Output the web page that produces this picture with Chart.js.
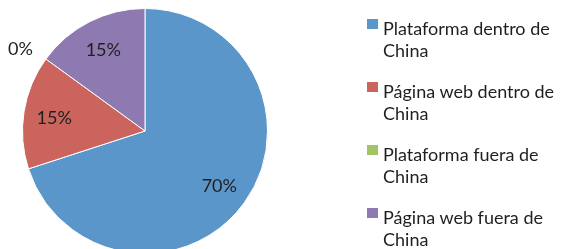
<!DOCTYPE html>
<html>
<head>
<meta charset="utf-8">
<script src="https://cdn.jsdelivr.net/npm/chart.js@4/dist/chart.umd.min.js"></script>
<style>
   html, body { margin: 0; padding: 0; background: #fff; overflow: hidden; }
   body { width: 561px; height: 249px; position: relative; font-family: Lato, sans-serif; }
   #wrap { position: absolute; left: 0; top: 0; width: 561px; height: 254px; }
   #legend { position: absolute; left: 367px; top: 17px; width: 194px; }
   .item { position: relative; height: 63px; }
   .box { position: absolute; left: 0; top: 2px; width: 11px; height: 10px; }
   .txt { position: absolute; left: 16px; top: 0; font-size: 18px; line-height: 22px; color: #1f1f1f; white-space: nowrap; }
</style>
</head>
<body>
<div id="wrap"><canvas id="chart"></canvas></div>
<div id="legend"></div>
<script>
const categories = ['Plataforma dentro de China', 'Página web dentro de China', 'Plataforma fuera de China', 'Página web fuera de China'];
const legendLines = [['Plataforma dentro de', 'China'], ['Página web dentro de', 'China'], ['Plataforma fuera de', 'China'], ['Página web fuera de', 'China']];
const shares = [70, 15, 0, 15];
const colors = ['#5b96cb', '#cc645e', '#a2c465', '#8e79b1'];

// percentage labels drawn inside each slice, or just outside when the slice is empty
const sliceLabels = {
   id: 'sliceLabels',
   afterDatasetsDraw(chart) {
      const ctx = chart.ctx;
      const meta = chart.getDatasetMeta(0);
      ctx.save();
      ctx.font = '18px Lato, sans-serif';
      ctx.fillStyle = '#1f1f1f';
      ctx.textBaseline = 'middle';
      meta.data.forEach((arc, i) => {
         const p = arc.getProps(['x', 'y', 'startAngle', 'endAngle', 'outerRadius'], true);
         const mid = (p.startAngle + p.endAngle) / 2;
         const dx = Math.cos(mid), dy = Math.sin(mid);
         if (shares[i] === 0) {
            ctx.textAlign = 'right';
            const r = p.outerRadius + 16;
            ctx.fillText(shares[i] + '%', p.x + dx * r, p.y + dy * r);
         } else {
            ctx.textAlign = 'center';
            const r = p.outerRadius * 0.75;
            ctx.fillText(shares[i] + '%', p.x + dx * r, p.y + dy * r + 1.5);
         }
      });
      ctx.restore();
   }
};

new Chart(document.getElementById('chart'), {
   type: 'pie',
   data: {
      labels: categories,
      datasets: [{
         data: shares,
         backgroundColor: colors,
         borderColor: '#ffffff',
         borderWidth: 1
      }]
   },
   options: {
      responsive: true,
      maintainAspectRatio: false,
      animation: false,
      layout: { padding: { left: 22, top: 8, right: 293, bottom: 0 } },
      plugins: {
         legend: { display: false },
         tooltip: { enabled: false }
      }
   },
   plugins: [sliceLabels]
});

const legend = document.getElementById('legend');
legendLines.forEach((lines, i) => {
   const item = document.createElement('div');
   item.className = 'item';
   item.innerHTML = '<span class="box" style="background:' + colors[i] + '"></span>' +
      '<span class="txt">' + lines.join('<br>') + '</span>';
   legend.appendChild(item);
});
</script>
</body>
</html>
